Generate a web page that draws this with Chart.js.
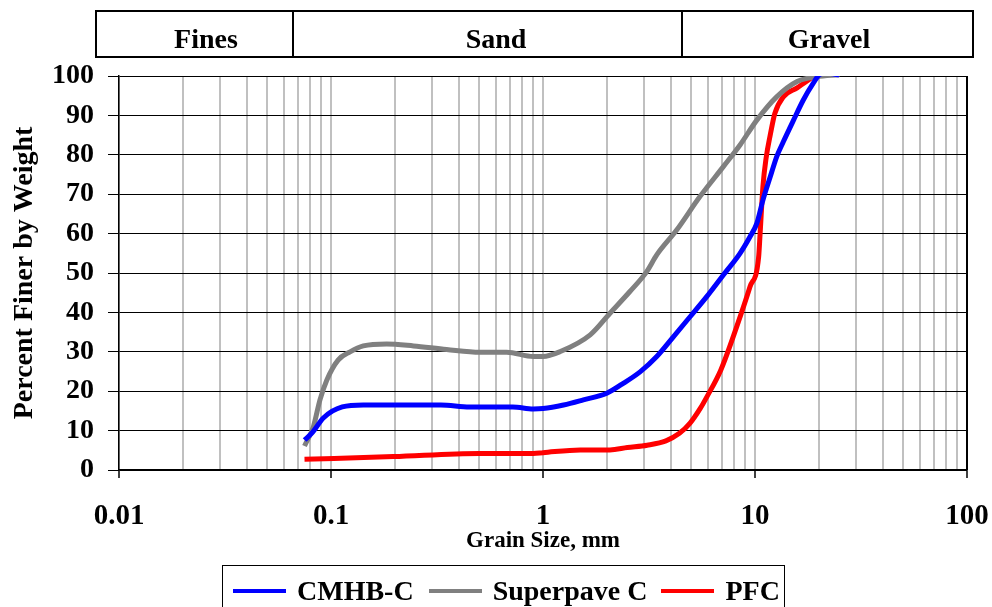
<!DOCTYPE html>
<html>
<head>
<meta charset="utf-8">
<script src="https://cdn.jsdelivr.net/npm/chart.js@4.4.1/dist/chart.umd.min.js"></script>
<style>
body{margin:0;background:#fff}
#wrap{position:relative;width:992px;height:607px;overflow:hidden;font-family:'Liberation Serif','Times New Roman',serif;font-weight:bold;color:#000}
#hdr{position:absolute;left:95px;top:10px;width:879px;height:48px;border:2px solid #000;box-sizing:border-box}
.sep{position:absolute;top:10px;width:2px;height:46px;background:#000}
.lbl{position:absolute;top:23px;font-size:28px;line-height:32px;transform:translateX(-50%);white-space:nowrap}
#legend{position:absolute;left:222px;top:565px;width:563px;height:60px;border:1.5px solid #000;box-sizing:border-box;padding:9px 0 0 10px;white-space:nowrap;font-size:28px;line-height:32px}
.item{display:inline-block}
.sw{display:inline-block;width:53px;height:4px;vertical-align:middle;margin-right:11px;position:relative;top:-3px}
</style>
</head>
<body>
<div id="wrap">
  <canvas id="chart" width="992" height="607"></canvas>
  <div id="hdr"></div>
  <div class="sep" style="left:292px"></div>
  <div class="sep" style="left:681px"></div>
  <div class="lbl" style="left:206px">Fines</div>
  <div class="lbl" style="left:496px">Sand</div>
  <div class="lbl" style="left:829px">Gravel</div>
  <div id="legend"></div>
</div>
<script>
// grain size (mm) and percent passing
const sizeCmhb = [0.075, 0.082, 0.092, 0.113, 0.142, 0.2, 0.33, 0.45, 0.72, 0.9, 1.0, 1.25, 1.55, 2.0, 2.36, 2.87, 3.44, 4.12, 4.94, 5.92, 7.09, 8.5, 9.47, 10.2, 10.9, 11.8, 12.65, 13.6, 15.2, 16.9, 18.8, 20.3, 21.8, 25]
const pctCmhb = [7.6, 9.6, 13.2, 16, 16.5, 16.5, 16.5, 16, 16, 15.5, 15.6, 16.5, 17.8, 19.5, 21.8, 24.9, 28.8, 33.8, 38.9, 44, 49.5, 55, 59.2, 62.6, 68.5, 74.4, 79.5, 83.3, 88.8, 93.9, 98.1, 100.5, 100.7, 100.3]
const sizeSuperpave = [0.075, 0.0826, 0.0887, 0.0955, 0.108, 0.123, 0.142, 0.183, 0.245, 0.351, 0.505, 0.674, 0.9, 1.0, 1.2, 1.67, 2.07, 2.57, 3.08, 3.44, 4.27, 5.5, 7.09, 8.5, 10.2, 12.65, 15.8, 19.5, 25]
const pctSuperpave = [6.1, 11, 17.8, 22.8, 27.9, 30, 31.5, 32, 31.5, 30.6, 29.9, 29.9, 28.8, 28.8, 30, 34.3, 39.8, 45.3, 50.3, 54.6, 60.9, 69.4, 77, 82.5, 88.8, 94.7, 98.6, 99.8, 100.3]
const sizePfc = [0.075, 0.197, 0.5, 0.9, 1.0, 1.5, 2.07, 2.5, 3.1, 3.8, 4.4, 4.94, 5.5, 5.92, 6.9, 8.2, 9.47, 10.4, 10.57, 10.9, 11.27, 11.8, 12.4, 13.6, 15.8, 18.8]
const pctPfc = [2.7, 3.4, 4.2, 4.2, 4.4, 5.1, 5.1, 5.7, 6.3, 7.4, 9.3, 11.9, 15.5, 18.5, 25.4, 36.4, 46.5, 54, 60, 72, 79, 85, 90.5, 94.7, 97, 99.8]
const seriesNames = ['CMHB-C', 'Superpave C', 'PFC']
const seriesColors = ['#0000ff', '#808080', '#ff0000']
const decadeTicks = [0.01, 0.1, 1, 10, 100]
const decadeLabels = ['0.01', '0.1', '1', '10', '100']

const points = (xs, ys) => xs.map((x, i) => ({ x, y: ys[i] }))
const minorTicks = []
decadeTicks.slice(0, -1).forEach(d => { for (let m = 1; m < 10; m++) minorTicks.push(parseFloat((m * d).toPrecision(2))) })
minorTicks.push(100)

const serif = "'Liberation Serif','Times New Roman',serif"
const font = { family: serif, weight: 'bold', size: 28 }

const datasets = [points(sizeCmhb, pctCmhb), points(sizeSuperpave, pctSuperpave), points(sizePfc, pctPfc)]
  .map((data, i) => ({ label: seriesNames[i], data, borderColor: seriesColors[i], backgroundColor: seriesColors[i] }))

const chart = new Chart(document.getElementById('chart'), {
  type: 'line',
  data: { datasets },
  options: {
    responsive: false,
    animation: false,
    layout: { padding: { top: 76, right: 25, left: 0, bottom: 0 } },
    plugins: { legend: { display: false }, tooltip: { enabled: false } },
    elements: { point: { radius: 0 }, line: { borderWidth: 5, cubicInterpolationMode: 'monotone' } },
    scales: {
      x: {
        type: 'logarithmic', min: 0.01, max: 100,
        afterBuildTicks: s => { s.ticks = minorTicks.map(v => ({ value: v })) },
        afterFit: s => { s.height = 137; s.paddingLeft = 0; s.paddingRight = 0 },
        ticks: {
          autoSkip: false, maxRotation: 0, padding: 21, font: { ...font, size: 29 }, color: '#000',
          callback: v => { const i = decadeTicks.indexOf(v); return i < 0 ? '' : decadeLabels[i] }
        },
        grid: {
          color: c => c.tick && c.tick.value === 100 ? '#000' : '#c0c0c0',
          lineWidth: 2, tickLength: 8, tickWidth: 1.5,
          tickColor: c => c.tick && decadeTicks.includes(c.tick.value) ? '#000' : 'rgba(0,0,0,0)'
        },
        border: { color: '#000', width: 1.5 },
        title: { display: true, text: 'Grain Size, mm', color: '#000', font: { ...font, size: 23 }, padding: { top: 0, bottom: 52 } }
      },
      y: {
        min: 0, max: 100,
        afterFit: s => { s.width = 119 },
        ticks: { stepSize: 10, padding: 14, font, color: '#000' },
        grid: { color: '#000', lineWidth: 1, tickLength: 11 },
        border: { color: '#000', width: 1.5 },
        title: { display: true, text: 'Percent Finer by Weight', color: '#000', font, padding: { top: 8, bottom: 0 } }
      }
    }
  }
})

const legend = document.getElementById('legend')
chart.data.datasets.forEach((d, i) => {
  const item = document.createElement('span')
  item.className = 'item'
  item.style.marginRight = i === 0 ? '15px' : '14px'
  item.innerHTML = `<span class="sw" style="background:${d.borderColor}"></span>${d.label}`
  legend.appendChild(item)
})
</script>
</body>
</html>
